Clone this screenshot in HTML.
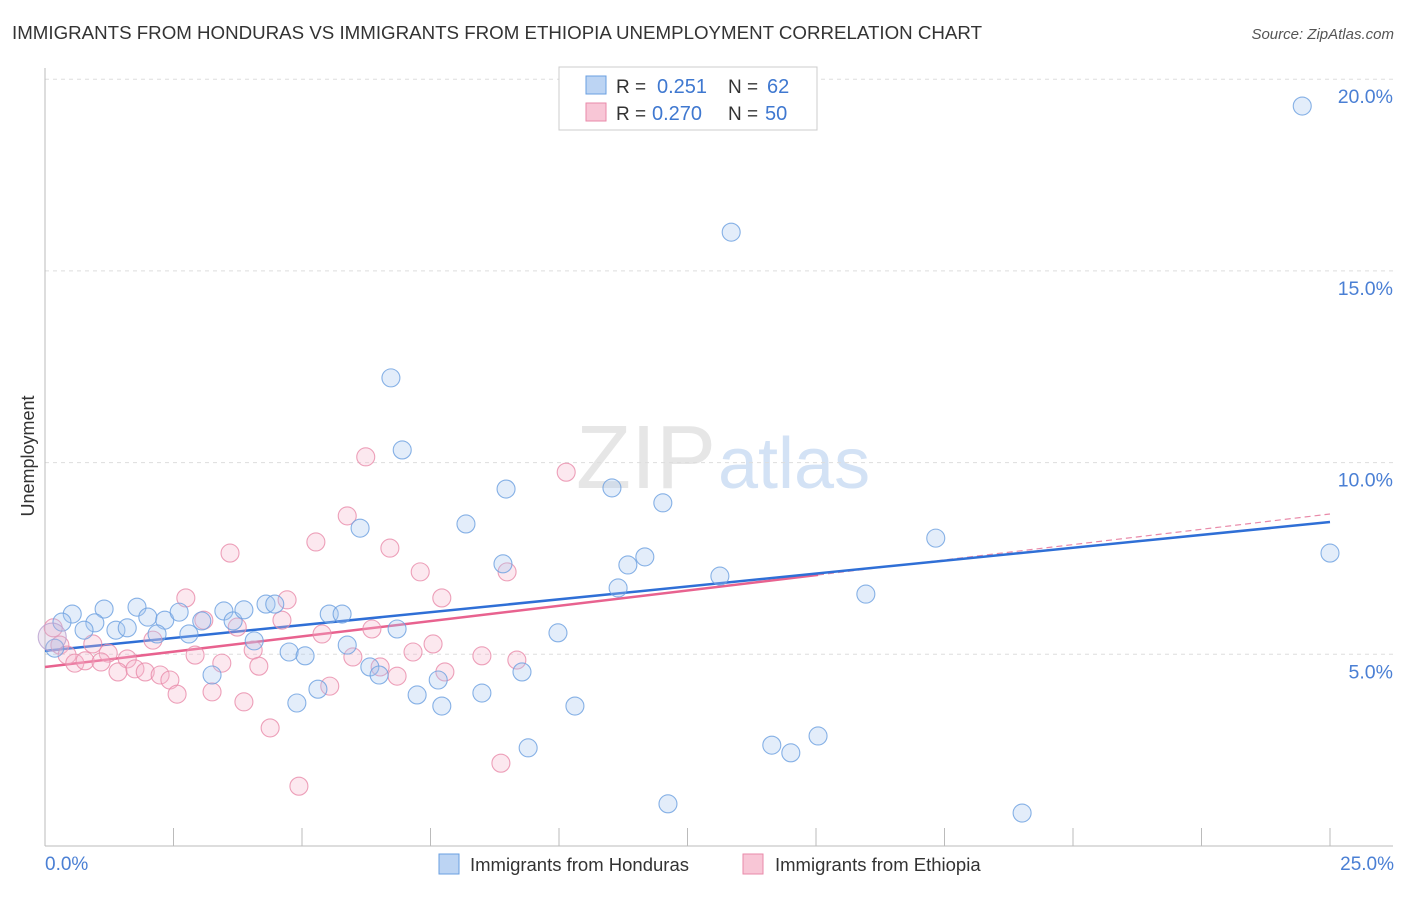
<!DOCTYPE html>
<html><head><meta charset="utf-8"><style>
body{margin:0;background:#fff;font-family:"Liberation Sans",sans-serif;}
svg text{font-family:"Liberation Sans",sans-serif;}
</style></head><body>
<svg id="chart" width="1406" height="892" viewBox="0 0 1406 892">
<text x="12" y="39" font-size="18.5" fill="#333" textLength="970" lengthAdjust="spacingAndGlyphs">IMMIGRANTS FROM HONDURAS VS IMMIGRANTS FROM ETHIOPIA UNEMPLOYMENT CORRELATION CHART</text>
<text x="1394" y="39" font-size="15" fill="#555" text-anchor="end" font-style="italic">Source: ZipAtlas.com</text>
<text x="716" y="488" font-size="90" fill="#e6e6e6" text-anchor="end" font-family="Liberation Serif">ZIP</text>
<text x="718" y="488" font-size="72" fill="#d3e2f5">atlas</text>
<g id="grid"></g>
<g id="axes"></g>
<g id="trend"></g>
<g id="pts"></g>
<text transform="translate(34,456) rotate(-90)" font-size="18" fill="#333" text-anchor="middle">Unemployment</text>
<text x="45" y="870" font-size="19" fill="#4a7fd4">0.0%</text>
<text x="1394" y="870" font-size="19" fill="#4a7fd4" text-anchor="end">25.0%</text>
<g>
<rect x="559" y="67" width="258" height="63" fill="#fff" stroke="#ccc"/>
<rect x="586" y="76" width="20" height="18" fill="#bcd4f3" stroke="#6a9fe0"/>
<text x="616" y="93" font-size="19" fill="#333">R =</text><text x="657" y="93" font-size="20" fill="#3f78d0">0.251</text>
<text x="728" y="93" font-size="19" fill="#333">N =</text><text x="767" y="93" font-size="20" fill="#3f78d0">62</text>
<rect x="586" y="103" width="20" height="18" fill="#f8c6d6" stroke="#e98aa9"/>
<text x="616" y="120" font-size="19" fill="#333">R =</text><text x="652" y="120" font-size="20" fill="#3f78d0">0.270</text>
<text x="728" y="120" font-size="19" fill="#333">N =</text><text x="765" y="120" font-size="20" fill="#3f78d0">50</text>
</g>
<g>
<rect x="439" y="854" width="20" height="20" fill="#bcd4f3" stroke="#6a9fe0"/>
<text x="470" y="871" font-size="18.5" fill="#333">Immigrants from Honduras</text>
<rect x="743" y="854" width="20" height="20" fill="#f8c6d6" stroke="#e98aa9"/>
<text x="775" y="871" font-size="18.5" fill="#333">Immigrants from Ethiopia</text>
</g>
</svg>
<script>
const yTicks=[5,10,15,20];
const yTickLabels=["5.0%","10.0%","15.0%","20.0%"];
const xTicks=[0,2.5,5,7.5,10,12.5,15,17.5,20,22.5,25];
const blueX=[24.46,13.35,6.73,6.95,8.97,11.03,12.02,8.19,6.13,17.33,25.0,8.91,11.34,11.67,13.13,11.15,15.97,0.53,1.15,1.79,0.33,0.97,0.76,1.38,1.60,2.00,2.33,2.61,2.18,2.80,3.05,3.48,3.66,3.87,4.30,4.47,4.07,3.25,5.53,5.78,5.88,4.75,5.06,6.85,6.32,6.50,4.90,5.31,7.24,7.65,7.72,8.50,9.28,9.98,10.31,9.40,12.12,14.14,14.51,15.04,19.01,0.19];
const blueY=[19.30,16.01,12.21,10.33,9.31,9.34,8.95,8.40,8.29,8.03,7.64,7.36,7.33,7.54,7.04,6.73,6.57,6.05,6.18,6.23,5.84,5.82,5.63,5.63,5.69,5.97,5.89,6.10,5.53,5.53,5.87,6.13,5.87,6.16,6.31,6.31,5.35,4.46,6.05,6.05,5.24,5.06,4.96,5.66,4.67,4.46,3.73,4.09,3.94,4.33,3.65,3.99,4.54,5.56,3.65,2.56,1.10,2.63,2.43,2.87,0.86,5.16];
const pinkX=[6.24,10.14,5.88,5.27,6.71,3.60,7.30,8.99,2.74,4.71,7.72,3.09,3.74,4.61,6.36,5.39,7.55,2.10,0.93,0.16,0.29,0.43,1.23,0.58,0.78,1.09,1.60,1.42,1.75,1.95,2.24,2.43,2.92,3.44,4.05,4.16,2.57,3.25,3.87,5.99,6.52,6.85,7.16,7.78,8.50,9.18,4.38,4.94,8.87,5.54];
const pinkY=[10.15,9.75,8.61,7.93,7.77,7.64,7.15,7.15,6.47,6.42,6.47,5.89,5.71,5.89,5.66,5.53,5.27,5.37,5.27,5.69,5.24,4.98,5.03,4.77,4.83,4.80,4.88,4.54,4.62,4.54,4.46,4.33,4.98,4.77,5.11,4.69,3.96,4.02,3.76,4.93,4.67,4.43,5.06,4.54,4.96,4.85,3.08,1.56,2.16,4.17];
const blueTrend=[[0,5.09],[25,8.45]];
const pinkTrend=[[0,4.67],[15.04,7.07]];
const pinkTrendExt=[[15.04,7.07],[25,8.66]];
const bigX=[0.14], bigY=[5.45];

const NS="http://www.w3.org/2000/svg";
const X=v=>45+v/25*1285;
const Y=v=>846-v/5*191.7;
function mk(tag,attrs,parent){const e=document.createElementNS(NS,tag);for(const k in attrs)e.setAttribute(k,attrs[k]);document.getElementById(parent).appendChild(e);return e;}
yTicks.forEach((t,i)=>{
  const l=mk('line',{x1:45,x2:1393,y1:Y(t),y2:Y(t),stroke:'#ddd','stroke-dasharray':'4,4'},'grid');
  
  
  const tx=mk('text',{x:1393,y:Y(t)+24,'font-size':19.5,fill:'#4a7fd4','text-anchor':'end'},'grid');
  tx.textContent=yTickLabels[i];
  
  
});
const ya=mk('line',{x1:45,x2:45,y1:68,y2:846,stroke:'#bbb'},'axes');


const xa=mk('line',{x1:45,x2:1393,y1:846,y2:846,stroke:'#bbb'},'axes');


xTicks.forEach(t=>{
  const l=mk('line',{x1:X(t),x2:X(t),y1:828,y2:846,stroke:'#bbb'},'axes');
  
  
});
function pts(xs,ys,fill,stroke,name,r){
  xs.forEach((v,i)=>{
    const c=mk('circle',{cx:X(v),cy:Y(ys[i]),r:r,fill:fill,'fill-opacity':0.32,stroke:stroke,'stroke-opacity':0.8,'stroke-width':1.1},'pts');
    
    
  });
}
pts(pinkX,pinkY,'#f5b8cc','#e98aa9','point-ethiopia',9);
pts(blueX,blueY,'#a9c7f0','#6a9fe0','point-honduras',9);
pts(bigX,bigY,'#c9b3d6','#b9a0cf','point-cluster',14);
function line(d,color,dash,name,w){
  const l=mk('line',{x1:X(d[0][0]),y1:Y(d[0][1]),x2:X(d[1][0]),y2:Y(d[1][1]),stroke:color,'stroke-width':w},'trend');
  if(dash)l.setAttribute('stroke-dasharray',dash);
  
  
}
line(pinkTrendExt,'#e98aa9','6,4','trend-ethiopia-extension',1.2);
line(pinkTrend,'#e8628f',null,'trend-ethiopia',2.5);
line(blueTrend,'#2f6fd6',null,'trend-honduras',2.5);
</script>
</body></html>
